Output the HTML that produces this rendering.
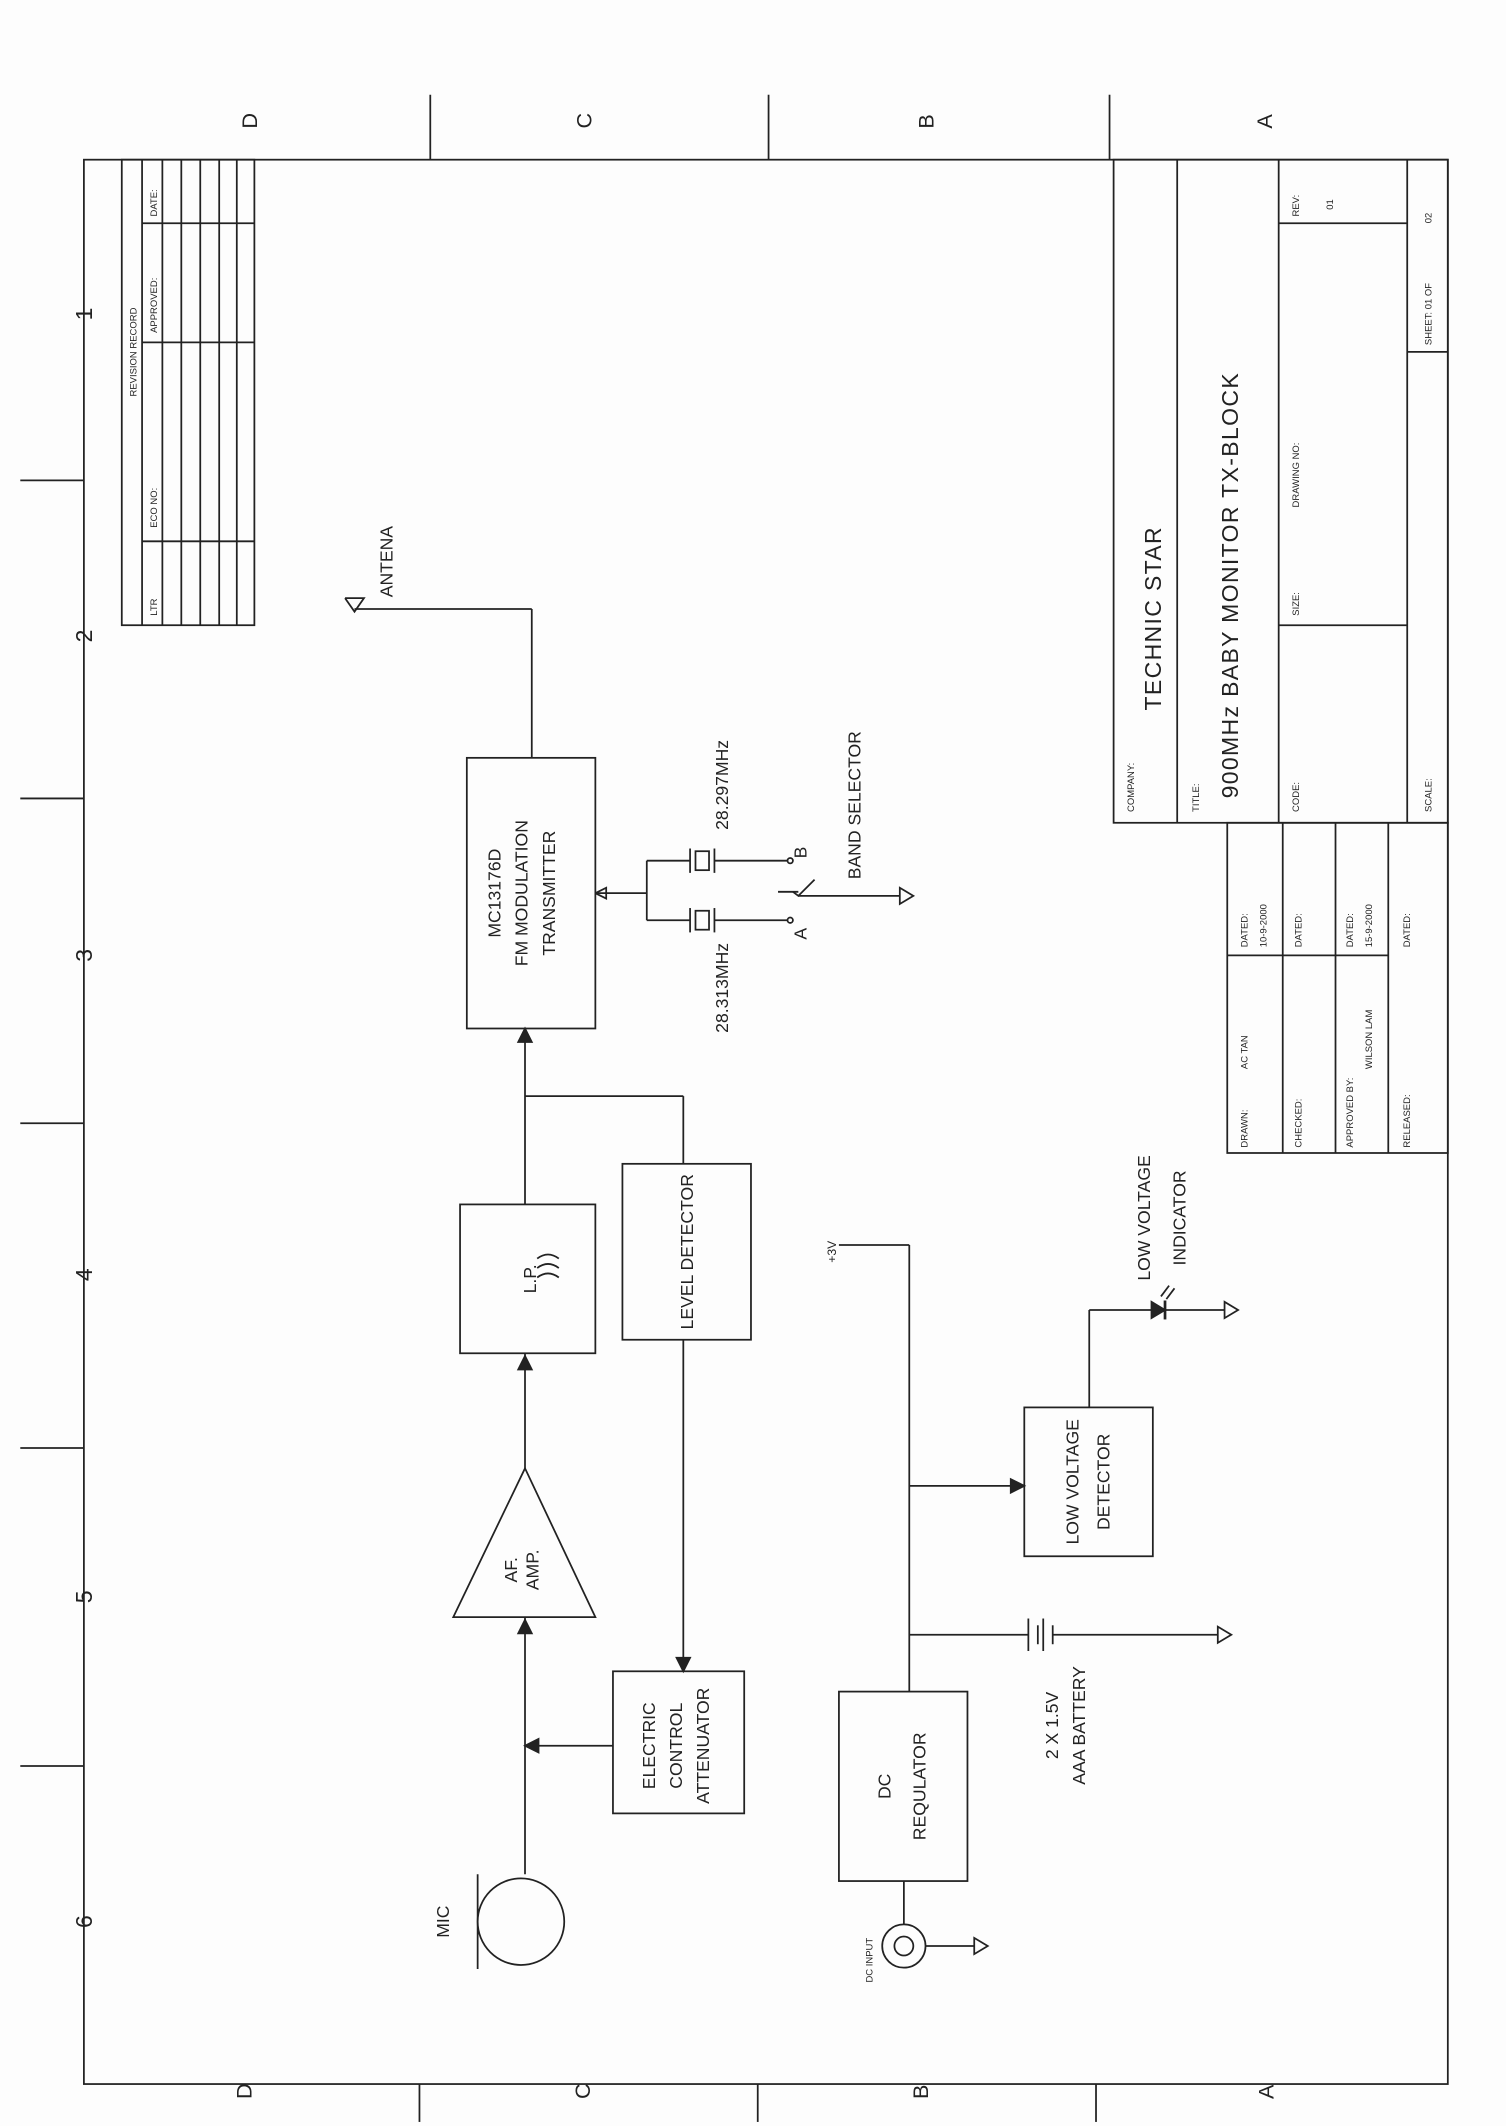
<!DOCTYPE html>
<html><head><style>
html,body{margin:0;padding:0;background:#fff;}
svg{display:block;}
text{font-family:"Liberation Sans",sans-serif;fill:#222;}
</style></head><body>
<svg width="1506" height="2126" viewBox="0 0 1113 1571" preserveAspectRatio="none" xmlns="http://www.w3.org/2000/svg">
<rect width="1113" height="1571" fill="#fdfdfd"/>
<g stroke="#222" stroke-width="1.3" fill="none">
<!-- border -->
<rect x="62" y="118" width="1008" height="1422"/>
<line x1="318" y1="70" x2="318" y2="118"/><line x1="568" y1="70" x2="568" y2="118"/><line x1="820" y1="70" x2="820" y2="118"/>
<line x1="310" y1="1540" x2="310" y2="1568"/><line x1="560" y1="1540" x2="560" y2="1568"/><line x1="810" y1="1540" x2="810" y2="1568"/>
<line x1="15" y1="355" x2="62" y2="355"/><line x1="15" y1="590" x2="62" y2="590"/><line x1="15" y1="830" x2="62" y2="830"/><line x1="15" y1="1070" x2="62" y2="1070"/><line x1="15" y1="1305" x2="62" y2="1305"/>
<!-- revision table -->
<rect x="90" y="118" width="98" height="344"/>
<line x1="105" y1="118" x2="105" y2="462"/><line x1="120" y1="118" x2="120" y2="462"/><line x1="134" y1="118" x2="134" y2="462"/><line x1="148" y1="118" x2="148" y2="462"/><line x1="162" y1="118" x2="162" y2="462"/><line x1="175" y1="118" x2="175" y2="462"/>
<line x1="105" y1="165" x2="188" y2="165"/><line x1="105" y1="253" x2="188" y2="253"/><line x1="105" y1="400" x2="188" y2="400"/>
<!-- title block -->
<rect x="823" y="118" width="247" height="490"/>
<line x1="870" y1="118" x2="870" y2="608"/>
<line x1="945" y1="118" x2="945" y2="608"/>
<line x1="1040" y1="118" x2="1040" y2="608"/>
<line x1="945" y1="165" x2="1040" y2="165"/>
<line x1="945" y1="462" x2="1040" y2="462"/>
<line x1="1040" y1="260" x2="1070" y2="260"/>
<line x1="870" y1="540" x2="945" y2="540" stroke-width="0"/>
<!-- approval -->
<rect x="907" y="608" width="163" height="244"/>
<line x1="948" y1="608" x2="948" y2="852"/><line x1="987" y1="608" x2="987" y2="852"/><line x1="1026" y1="608" x2="1026" y2="852"/>
<line x1="907" y1="706" x2="1026" y2="706"/>
<!-- MC13176D -->
<rect x="345" y="560" width="95" height="200"/>
<line x1="393" y1="560" x2="393" y2="450"/><line x1="393" y1="450" x2="262" y2="450"/>
<polyline points="255,442 262,452 269,442 255,442"/>
<!-- crystals -->
<line x1="440" y1="660" x2="478" y2="660"/>
<line x1="478" y1="636" x2="478" y2="680"/>
<line x1="478" y1="636" x2="510" y2="636"/><line x1="478" y1="680" x2="510" y2="680"/>
<line x1="510" y1="627" x2="510" y2="645"/><rect x="514" y="629" width="10" height="14"/><line x1="528" y1="627" x2="528" y2="645"/>
<line x1="510" y1="671" x2="510" y2="689"/><rect x="514" y="673" width="10" height="14"/><line x1="528" y1="671" x2="528" y2="689"/>
<line x1="528" y1="636" x2="582" y2="636"/><line x1="528" y1="680" x2="582" y2="680"/>
<circle cx="584" cy="636" r="2"/><circle cx="584" cy="680" r="2"/>
<line x1="575" y1="659" x2="590" y2="659"/><polyline points="586,659 590,662 602,650"/>
<line x1="590" y1="662" x2="665" y2="662"/><polygon points="665,656 665,668 675,662"/>
<polyline points="440,660 448,656 448,664 440,660"/>
<!-- LP -->
<rect x="340" y="890" width="100" height="110"/>
<line x1="388" y1="760" x2="388" y2="890"/><polygon points="383,770 393,770 388,760" fill="#222"/>
<path d="M397,930 q8,-6 16,0 M397,937 q8,-6 16,0 M397,944 q8,-6 16,0"/>
<!-- level detector -->
<rect x="460" y="860" width="95" height="130"/>
<line x1="388" y1="810" x2="505" y2="810"/><line x1="505" y1="810" x2="505" y2="860"/>
<line x1="505" y1="990" x2="505" y2="1235"/><polygon points="500,1225 510,1225 505,1235" fill="#222"/>
<!-- AF amp -->
<polygon points="388,1085 335,1195 440,1195"/>
<line x1="388" y1="1000" x2="388" y2="1085"/><polygon points="383,1012 393,1012 388,1002" fill="#222"/>
<line x1="388" y1="1195" x2="388" y2="1385"/><polygon points="383,1207 393,1207 388,1197" fill="#222"/>
<!-- attenuator -->
<rect x="453" y="1235" width="97" height="105"/>
<line x1="453" y1="1290" x2="388" y2="1290"/><polygon points="398,1285 398,1295 388,1290" fill="#222"/>
<!-- mic -->
<circle cx="385" cy="1420" r="32"/><line x1="353" y1="1385" x2="353" y2="1455"/>
<!-- DC regulator -->
<rect x="620" y="1250" width="95" height="140"/>
<line x1="672" y1="920" x2="672" y2="1250"/><line x1="620" y1="920" x2="672" y2="920"/>
<line x1="668" y1="1390" x2="668" y2="1422"/>
<circle cx="668" cy="1438" r="16"/><circle cx="668" cy="1438" r="7"/>
<line x1="684" y1="1438" x2="720" y2="1438"/><polygon points="720,1432 720,1444 730,1438"/>
<!-- battery -->
<line x1="672" y1="1208" x2="760" y2="1208"/>
<line x1="760" y1="1196" x2="760" y2="1220"/><line x1="767" y1="1201" x2="767" y2="1215"/><line x1="771" y1="1196" x2="771" y2="1220"/><line x1="778" y1="1201" x2="778" y2="1215"/>
<line x1="778" y1="1208" x2="900" y2="1208"/><polygon points="900,1202 900,1214 910,1208"/>
<!-- LVD -->
<line x1="672" y1="1098" x2="757" y2="1098"/><polygon points="747,1093 747,1103 757,1098" fill="#222"/>
<rect x="757" y="1040" width="95" height="110"/>
<line x1="805" y1="1040" x2="805" y2="968"/><line x1="805" y1="968" x2="905" y2="968"/>
<polygon points="851,962 851,974 861,968" fill="#222"/><line x1="861" y1="961" x2="861" y2="975" stroke-width="2"/>
<line x1="858" y1="958" x2="864" y2="950"/><line x1="862" y1="960" x2="868" y2="952"/>
<polygon points="905,962 905,974 915,968"/>
</g>
<g font-size="14">
<!-- grid labels -->
<text x="195" y="100" transform="rotate(-90 190 100)" font-size="16">D</text>
<text x="442" y="100" transform="rotate(-90 437 100)" font-size="16">C</text>
<text x="695" y="100" transform="rotate(-90 690 100)" font-size="16">B</text>
<text x="945" y="100" transform="rotate(-90 940 100)" font-size="16">A</text>
<text x="185" y="1562" transform="rotate(-90 180 1556)" font-size="16">D</text>
<text x="435" y="1562" transform="rotate(-90 430 1556)" font-size="16">C</text>
<text x="685" y="1562" transform="rotate(-90 680 1556)" font-size="16">B</text>
<text x="940" y="1562" transform="rotate(-90 935 1556)" font-size="16">A</text>
<g font-size="17" text-anchor="middle">
<text transform="translate(68 232) rotate(-90)">1</text>
<text transform="translate(68 470) rotate(-90)">2</text>
<text transform="translate(68 706) rotate(-90)">3</text>
<text transform="translate(68 942) rotate(-90)">4</text>
<text transform="translate(68 1180) rotate(-90)">5</text>
<text transform="translate(68 1420) rotate(-90)">6</text>
</g>
<g font-size="7">
<text transform="translate(101 293) rotate(-90)">REVISION RECORD</text>
<text transform="translate(116 455) rotate(-90)">LTR</text>
<text transform="translate(116 390) rotate(-90)">ECO NO:</text>
<text transform="translate(116 246) rotate(-90)">APPROVED:</text>
<text transform="translate(116 160) rotate(-90)">DATE:</text>
<text transform="translate(838 600) rotate(-90)">COMPANY:</text>
<text transform="translate(886 600) rotate(-90)">TITLE:</text>
<text transform="translate(960 600) rotate(-90)">CODE:</text>
<text transform="translate(960 455) rotate(-90)">SIZE:</text>
<text transform="translate(960 375) rotate(-90)">DRAWING NO:</text>
<text transform="translate(960 160) rotate(-90)">REV:</text>
<text transform="translate(985 155) rotate(-90)">01</text>
<text transform="translate(1058 600) rotate(-90)">SCALE:</text>
<text transform="translate(1058 255) rotate(-90)">SHEET:  01 OF</text>
<text transform="translate(1058 165) rotate(-90)">02</text>
<text transform="translate(922 848) rotate(-90)">DRAWN:</text>
<text transform="translate(922 790) rotate(-90)">AC TAN</text>
<text transform="translate(922 700) rotate(-90)">DATED:</text>
<text transform="translate(936 700) rotate(-90)">10-9-2000</text>
<text transform="translate(962 848) rotate(-90)">CHECKED:</text>
<text transform="translate(962 700) rotate(-90)">DATED:</text>
<text transform="translate(1000 848) rotate(-90)">APPROVED BY:</text>
<text transform="translate(1014 790) rotate(-90)">WILSON LAM</text>
<text transform="translate(1000 700) rotate(-90)">DATED:</text>
<text transform="translate(1014 700) rotate(-90)">15-9-2000</text>
<text transform="translate(1042 848) rotate(-90)">RELEASED:</text>
<text transform="translate(1042 700) rotate(-90)">DATED:</text>
<text transform="translate(645 1465) rotate(-90)">DC INPUT</text>
</g>
<text transform="translate(858 525) rotate(-90)" font-size="17" letter-spacing="1">TECHNIC STAR</text>
<text transform="translate(915 590) rotate(-90)" font-size="17" letter-spacing="1">900MHz BABY MONITOR TX-BLOCK</text>
<g text-anchor="middle" font-size="13">
<text transform="translate(290 415) rotate(-90)">ANTENA</text>
<text transform="translate(370 660) rotate(-90)">MC13176D</text>
<text transform="translate(390 660) rotate(-90)">FM MODULATION</text>
<text transform="translate(410 660) rotate(-90)">TRANSMITTER</text>
<text transform="translate(538 580) rotate(-90)">28.297MHz</text>
<text transform="translate(538 730) rotate(-90)">28.313MHz</text>
<text transform="translate(596 630) rotate(-90)">B</text>
<text transform="translate(596 690) rotate(-90)">A</text>
<text transform="translate(636 595) rotate(-90)">BAND SELECTOR</text>
<text transform="translate(396 945) rotate(-90)">L.P.</text>
<text transform="translate(512 925) rotate(-90)">LEVEL DETECTOR</text>
<text transform="translate(382 1160) rotate(-90)">AF.</text>
<text transform="translate(398 1160) rotate(-90)">AMP.</text>
<text transform="translate(484 1290) rotate(-90)">ELECTRIC</text>
<text transform="translate(504 1290) rotate(-90)">CONTROL</text>
<text transform="translate(524 1290) rotate(-90)">ATTENUATOR</text>
<text transform="translate(332 1420) rotate(-90)">MIC</text>
<text transform="translate(658 1320) rotate(-90)">DC</text>
<text transform="translate(684 1320) rotate(-90)">REQULATOR</text>
<text transform="translate(797 1095) rotate(-90)">LOW VOLTAGE</text>
<text transform="translate(820 1095) rotate(-90)">DETECTOR</text>
<text transform="translate(850 900) rotate(-90)">LOW VOLTAGE</text>
<text transform="translate(876 900) rotate(-90)">INDICATOR</text>
<text transform="translate(782 1275) rotate(-90)">2 X 1.5V</text>
<text transform="translate(802 1275) rotate(-90)">AAA BATTERY</text>
<text transform="translate(618 925) rotate(-90)" font-size="9">+3V</text>
</g>
</g>
</svg>
</body></html>
